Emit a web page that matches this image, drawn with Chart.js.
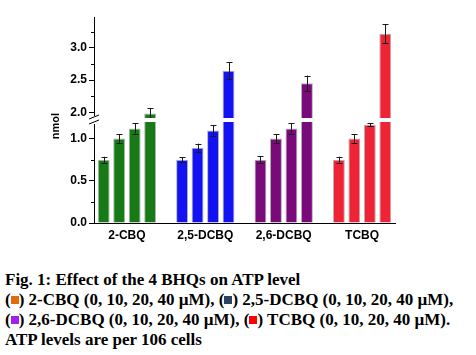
<!DOCTYPE html>
<html>
<head>
<meta charset="utf-8">
<script src="https://cdn.jsdelivr.net/npm/chart.js@4/dist/chart.umd.min.js"></script>
<style>
  html, body { margin: 0; padding: 0; background: #fff; }
  body { width: 476px; height: 355px; position: relative; overflow: hidden; }
  #wrap { position: absolute; left: 0; top: 0; width: 476px; height: 245px; }
  #cap { position: absolute; left: 5px; top: 270px; font-family: "Liberation Serif", "Times New Roman", serif;
         font-weight: bold; font-size: 17px; line-height: 20px; color: #000; white-space: nowrap; }
  .sq { display: inline-block; width: 8px; height: 8px; vertical-align: 1px; }
</style>
</head>
<body>
<div id="wrap"><canvas id="c" width="476" height="245"></canvas></div>
<div id="cap">
Fig. 1: Effect of the 4 BHQs on ATP level<br>
(<span class="sq" style="background:#e36c0a"></span>) 2-CBQ (0, 10, 20, 40 µM), (<span class="sq" style="background:#2b4461"></span>) 2,5-DCBQ (0, 10, 20, 40 µM),<br>
(<span class="sq" style="background:#a020f0"></span>) 2,6-DCBQ (0, 10, 20, 40 µM), (<span class="sq" style="background:#ff0000"></span>) TCBQ (0, 10, 20, 40 µM).<br>
ATP levels are per 106 cells
</div>
<script>
// ---- data ----
const categories = ["2-CBQ", "2,5-DCBQ", "2,6-DCBQ", "TCBQ"];
const concentrations = ["0 µM", "10 µM", "20 µM", "40 µM"];
const cbqValues    = [0.75, 1.00, 1.12, 1.98];
const cbqErrors    = [0.035, 0.05, 0.06, 0.08];
const dcbq25Values = [0.75, 0.89, 1.095, 2.645];
const dcbq25Errors = [0.03, 0.05, 0.06, 0.13];
const dcbq26Values = [0.75, 1.00, 1.12, 2.45];
const dcbq26Errors = [0.04, 0.05, 0.06, 0.12];
const tcbqValues   = [0.75, 1.00, 1.165, 3.22];
const tcbqErrors   = [0.035, 0.05, 0.02, 0.15];
const categoryColors = ["#177a17", "#1212f2", "#7a0a7a", "#ef2336"];
const lowerTicks = [0, 0.5, 1.0];
const upperTicks = [2.0, 2.5, 3.0];
const LOW_MIN = 0, LOW_MAX = 1.22, HIGH_MIN = 1.88, HIGH_MAX = 3.48;
const X_EDGE = 0.42; // category-axis padding at both ends (fraction of a category)

const valuesByCat = [cbqValues, dcbq25Values, dcbq26Values, tcbqValues];
const errorsByCat = [cbqErrors, dcbq25Errors, dcbq26Errors, tcbqErrors];

const datasets = [];
concentrations.forEach((conc, i) => {
  const vals = valuesByCat.map(v => v[i]);
  datasets.push({
    label: conc, yAxisID: "yLow", stack: "s" + i,
    data: vals.map(v => Math.min(v, LOW_MAX)),
    backgroundColor: categoryColors, borderColor: "rgba(0,0,0,0.3)", borderWidth: 1,
    barPercentage: 0.77, categoryPercentage: 0.79
  });
  datasets.push({
    label: conc + " (upper)", yAxisID: "yHigh", stack: "s" + i,
    data: vals.map(v => v > LOW_MAX ? v : null),
    backgroundColor: categoryColors, borderColor: "rgba(0,0,0,0.3)", borderWidth: 1,
    barPercentage: 0.77, categoryPercentage: 0.79
  });
});

const isMajor = (v, list) => list.some(t => Math.abs(t - v) < 1e-6);
const quarterFilter = (scale) => {
  scale.ticks = scale.ticks.filter(t => Math.abs(t.value / 0.25 - Math.round(t.value / 0.25)) < 1e-6);
};
const AXIS_W = 94;
const font = { family: "'Liberation Sans', Arial, sans-serif", size: 12, weight: "bold" };

const xEdges = {
  id: "xEdges",
  afterLayout(chart) {
    const x = chart.scales.x;
    x._startValue = -X_EDGE;
    x._valueRange = (categories.length - 1) + 2 * X_EDGE;
  }
};

const overlay = {
  id: "overlay",
  afterDatasetsDraw(chart) {
    const ctx = chart.ctx;
    const lo = chart.scales.yLow, hi = chart.scales.yHigh;
    const area = chart.chartArea;
    ctx.save();
    ctx.strokeStyle = "#1a1a1a"; ctx.lineWidth = 1;
    chart.data.datasets.forEach((ds, di) => {
      if (ds.yAxisID !== "yLow") return;
      const meta = chart.getDatasetMeta(di);
      const ci = Math.floor(di / 2);
      meta.data.forEach((bar, k) => {
        const v = valuesByCat[k][ci], e = errorsByCat[k][ci];
        const sc = v > LOW_MAX ? hi : lo;
        const cx = Math.round(bar.x) + 0.5;
        const y1 = sc.getPixelForValue(v + e), y2 = sc.getPixelForValue(v - e);
        ctx.beginPath();
        ctx.moveTo(cx, y1); ctx.lineTo(cx, y2);
        ctx.moveTo(cx - 3, Math.round(y1) + 0.5); ctx.lineTo(cx + 3, Math.round(y1) + 0.5);
        ctx.moveTo(cx - 3, Math.round(y2) + 0.5); ctx.lineTo(cx + 3, Math.round(y2) + 0.5);
        ctx.stroke();
      });
    });
    ctx.strokeStyle = "#000";
    [lo, hi].forEach((sc, si) => {
      const majors = si === 0 ? lowerTicks : upperTicks;
      sc.ticks.forEach(t => {
        if (isMajor(t.value, majors)) return;
        const y = Math.round(sc.getPixelForValue(t.value)) + 0.5;
        ctx.beginPath(); ctx.moveTo(area.left - 3, y); ctx.lineTo(area.left, y); ctx.stroke();
      });
    });
    const by = hi.bottom;
    ctx.fillStyle = "#fff";
    ctx.fillRect(area.left - 1, by - 2, area.right - area.left + 1, 4);
    ctx.fillRect(area.left - 2, by - 4, 4, 8);
    ctx.strokeStyle = "#000"; ctx.lineWidth = 1;
    ctx.beginPath();
    ctx.moveTo(area.left - 5, by - 1); ctx.lineTo(area.left + 5, by - 5);
    ctx.moveTo(area.left - 5, by + 4); ctx.lineTo(area.left + 5, by);
    ctx.stroke();
    ctx.fillStyle = "#000";
    ctx.font = "bold 11px 'Liberation Sans', Arial, sans-serif";
    ctx.textAlign = "center"; ctx.textBaseline = "middle";
    ctx.translate(56, by + 6);
    ctx.rotate(-Math.PI / 2);
    ctx.fillText("nmol", 0, 0);
    ctx.restore();
  }
};

const yCommon = (min, max, majors) => ({
  type: "linear", position: "left", stack: "y", stackWeight: 1, stacked: false,
  min, max,
  afterBuildTicks: quarterFilter,
  afterFit: s => { s.width = AXIS_W; },
  grid: { drawOnChartArea: false, tickLength: 5,
          tickColor: c => isMajor(c.tick.value, majors) ? "#000" : "rgba(0,0,0,0)" },
  border: { color: "#000", width: 1 },
  ticks: { stepSize: 0.25, includeBounds: false, autoSkip: false, color: "#000", font, padding: 2,
           callback: v => isMajor(v, majors) ? v.toFixed(1) : "" }
});

new Chart(document.getElementById("c"), {
  type: "bar",
  data: { labels: categories, datasets },
  options: {
    responsive: false, animation: false,
    layout: { padding: { left: 0, right: 81, top: 17, bottom: 0 } },
    plugins: { legend: { display: false }, tooltip: { enabled: false } },
    scales: {
      x: {
        type: "category", offset: true,
        afterFit: s => { s.height = 22; },
        grid: { display: false, drawTicks: false, tickLength: 0 },
        border: { color: "#000", width: 1 },
        ticks: { color: "#000", font, padding: 5, maxRotation: 0, autoSkip: false }
      },
      yLow: yCommon(LOW_MIN, LOW_MAX, lowerTicks),
      yHigh: yCommon(HIGH_MIN, HIGH_MAX, upperTicks)
    }
  },
  plugins: [xEdges, overlay]
});
</script>
</body>
</html>
